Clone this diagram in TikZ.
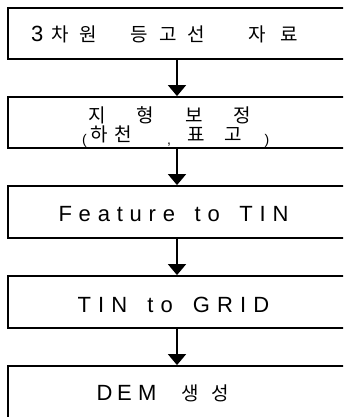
\documentclass[tikz,border=0pt]{standalone}
\usepackage{fontspec}
\setmainfont{Liberation Sans}
\newfontfamily\kr{Noto Sans CJK KR}
\usetikzlibrary{arrows.meta}
\newcommand\hg[1]{{\kr\fontsize{19}{22}\selectfont #1}}
\newcommand\sm[1]{{\fontsize{14}{16}\selectfont #1}}
\newcommand\gp[1]{\hspace{0pt plus #1fil}}
\newcommand\wg{\hspace{6pt plus 2fil}}
\begin{document}
\begin{tikzpicture}[x=1pt,y=-1pt,
  box/.style={draw=black,line width=1.8pt,minimum width=338pt,inner sep=0pt},
  flow/.style={line width=1.6pt,-{Triangle[length=11pt,width=18pt]}},
  lat/.style={inner sep=0pt,anchor=west,font=\fontsize{22}{26}\selectfont}]
\useasboundingbox (0,0) rectangle (343,417);
\fill[white] (0,0) rectangle (343,417);
\begin{scope}
\clip (0,0) rectangle (343,417);
\node[box,minimum height=51pt] (b1) at (177,33.5) {};
\node[box,minimum height=51pt] (b2) at (177,122.5) {};
\node[box,minimum height=52pt] (b3) at (177,212) {};
\node[box,minimum height=52pt] (b4) at (177,302) {};
\node[box,minimum height=64pt] (b5) at (177,398) {};
\end{scope}
\draw[flow] (b1) -- (b2);
\draw[flow] (b2) -- (b3);
\draw[flow] (b3) -- (b4);
\draw[flow] (b4) -- (b5);
\node[lat] (t1) at (31,34) {\makebox[267pt][s]{3\gp{8}\hg{차}\gp{11}\hg{원}\gp{35}\hg{등}\gp{12}\hg{고}\gp{11}\hg{선}\gp{46}\hg{자}\gp{15}\hg{료}}};
\node[lat] (t2a) at (88.5,115) {\makebox[162pt][s]{\hg{지}\gp{1}\hg{형}\gp{1}\hg{보}\gp{1}\hg{정}}};
\node[lat] (t2b) at (82,137) {\makebox[187pt][s]{\raisebox{-3pt}{\sm{(}}\gp{4}\hg{하}\gp{6}\hg{천}\gp{34}\raisebox{-3pt}{\sm{,}}\gp{16}\hg{표}\gp{19}\hg{고}\gp{22}\raisebox{-3pt}{\sm{)}}}};
\node[lat] (t3) at (58.3,214) {\makebox[230pt][s]{F\gp1e\gp1a\gp1t\gp1u\gp1r\gp1e\wg t\gp1o\wg T\gp1I\gp1N}};
\node[lat] (t4) at (77.5,304.5) {\makebox[191.5pt][s]{T\gp1I\gp1N\wg t\gp1o\wg G\gp1R\gp1I\gp1D}};
\node[lat] (t5) at (96.5,393) {\makebox[132pt][s]{D\gp5E\gp7M\gp{28}\hg{생}\gp{13}\hg{성}}};
\end{tikzpicture}
\end{document}
